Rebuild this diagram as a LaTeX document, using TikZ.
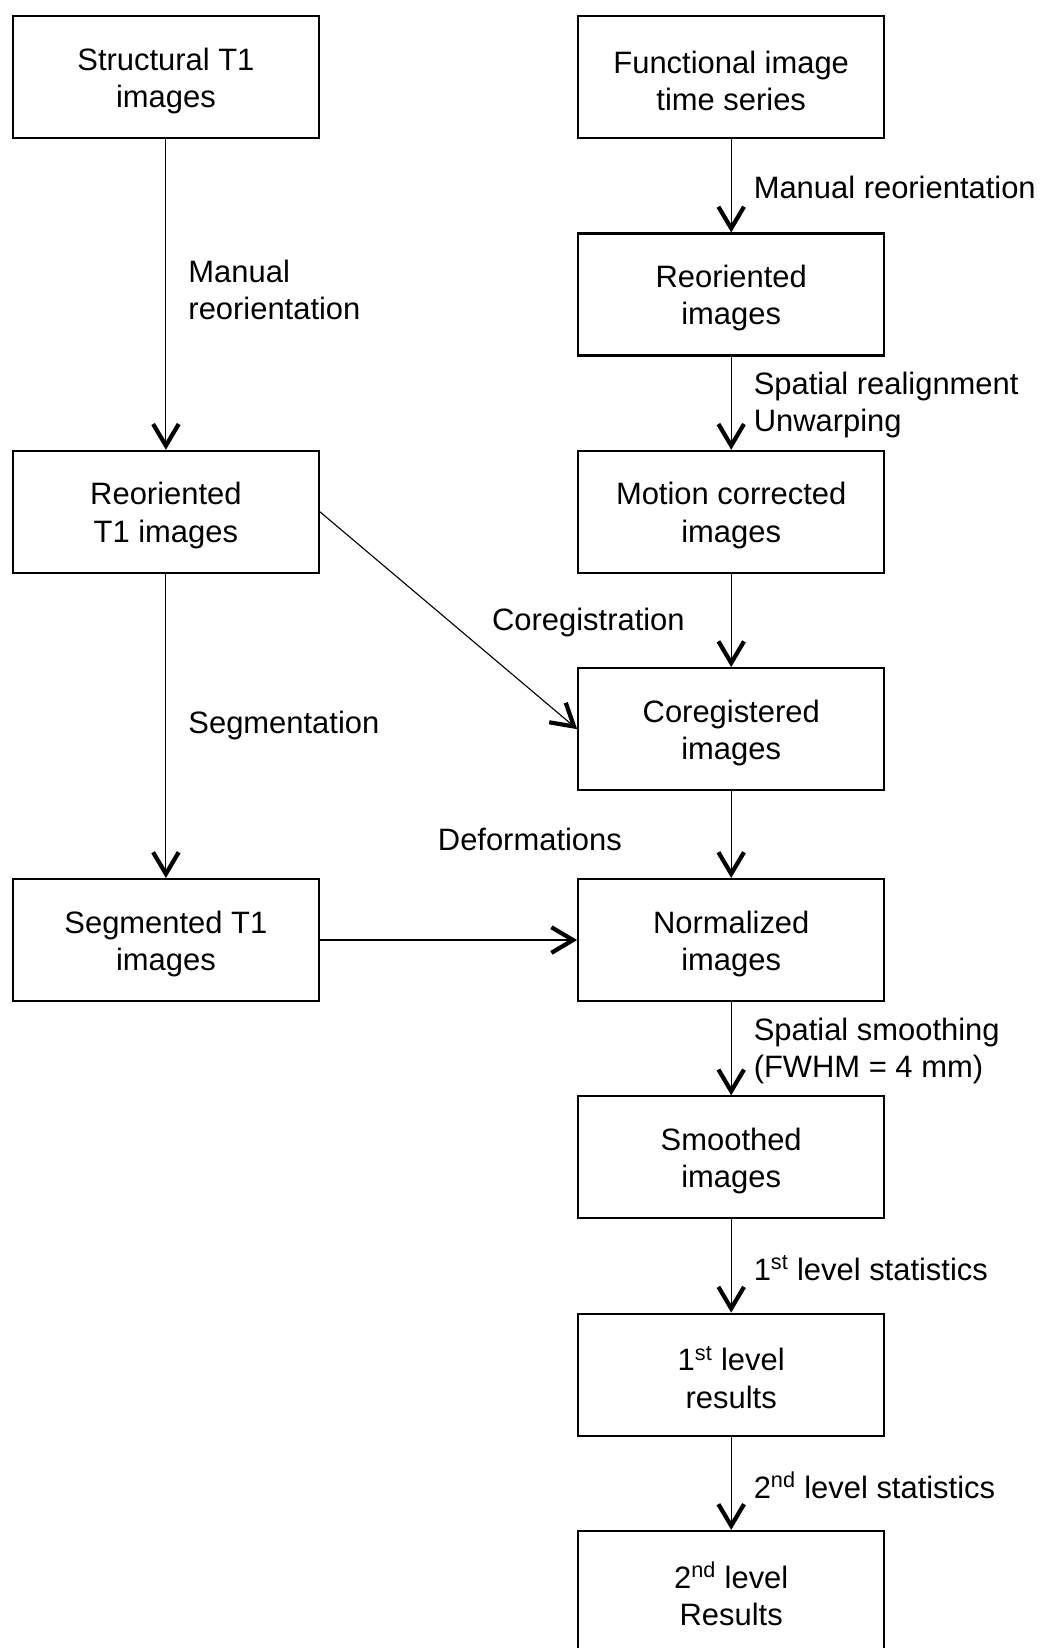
\documentclass[tikz,border=0pt]{standalone}
\usepackage{fontspec}
\setmainfont{Liberation Sans}
\usetikzlibrary{positioning}
\usetikzlibrary{arrows.meta}
\newcommand{\topstrut}{\rule{0pt}{0.75cm}}
\tikzset{
    procbox/.style = {rectangle, draw=black, line width=1.5pt, align=center, minimum width=7.65cm, minimum height=3.05cm, text=black},
    steplabel/.style = {align=left, inner sep=0pt, text=black},
    edgen/.style = {-{Straight Barb[length=5.4mm,width=6.4mm,line width=3pt]}, line width=0.8pt, black}
}
\begin{document}
\begin{tikzpicture}[
  node distance=2.33cm,
  font=\fontsize{22}{26.5}\selectfont]
  \useasboundingbox (0,0) rectangle (26.025,-41.2);
  % functional branch
  \node[procbox] (func) at (18.28,-1.93) {\topstrut Functional image\\time series};
  \node[procbox, below=of func] (reor) {\topstrut Reoriented\\images};
  \node[procbox, below=of reor] (motion) {\topstrut Motion corrected\\images};
  \node[procbox, below=of motion] (coreg) {\topstrut Coregistered\\images};
  \node[procbox, below=2.17cm of coreg] (norm) {\topstrut Normalized\\images};
  \node[procbox, below=of norm] (smooth) {\topstrut Smoothed\\images};
  \node[procbox, below=of smooth] (first) {\topstrut 1\textsuperscript{st} level\\results};
  \node[procbox, below=of first] (second) {\topstrut 2\textsuperscript{nd} level\\Results};
  % structural branch
  \node[procbox, left=6.43cm of func] (struct) {\topstrut Structural T1\\images};
  \node[procbox, left=6.43cm of motion] (reort1) {\topstrut Reoriented\\T1 images};
  \node[procbox, left=6.43cm of norm] (segt1) {\topstrut Segmented T1\\images};

  \draw[edgen] (func) -- node[steplabel, midway, right=0.55cm, yshift=-0.05cm] {Manual reorientation} (reor);
  \draw[edgen] (reor) -- node[steplabel, midway, right=0.55cm, yshift=-0.05cm] {Spatial realignment\\Unwarping} (motion);
  \draw[edgen] (motion) -- node[steplabel, midway, left=1.15cm, yshift=-0.05cm] {Coregistration} (coreg);
  \draw[edgen] (coreg) -- node[steplabel, midway, left=2.72cm, yshift=-0.12cm] {Deformations} (norm);
  \draw[edgen] (norm) -- node[steplabel, midway, right=0.55cm, yshift=-0.05cm] {Spatial smoothing\\(FWHM = 4 mm)} (smooth);
  \draw[edgen] (smooth) -- node[steplabel, midway, right=0.55cm, yshift=-0.05cm] {1\textsuperscript{st} level statistics} (first);
  \draw[edgen] (first) -- node[steplabel, midway, right=0.55cm, yshift=-0.05cm] {2\textsuperscript{nd} level statistics} (second);

  \draw[edgen] (struct) -- node[steplabel, midway, right=0.55cm, yshift=0.12cm] {Manual\\reorientation} (reort1);
  \draw[edgen] (reort1) -- node[steplabel, midway, right=0.55cm] {Segmentation} (segt1);
  \draw[edgen] (reort1.east) -- (coreg.west);
  \draw[edgen] (segt1) -- (norm);
\end{tikzpicture}
\end{document}
